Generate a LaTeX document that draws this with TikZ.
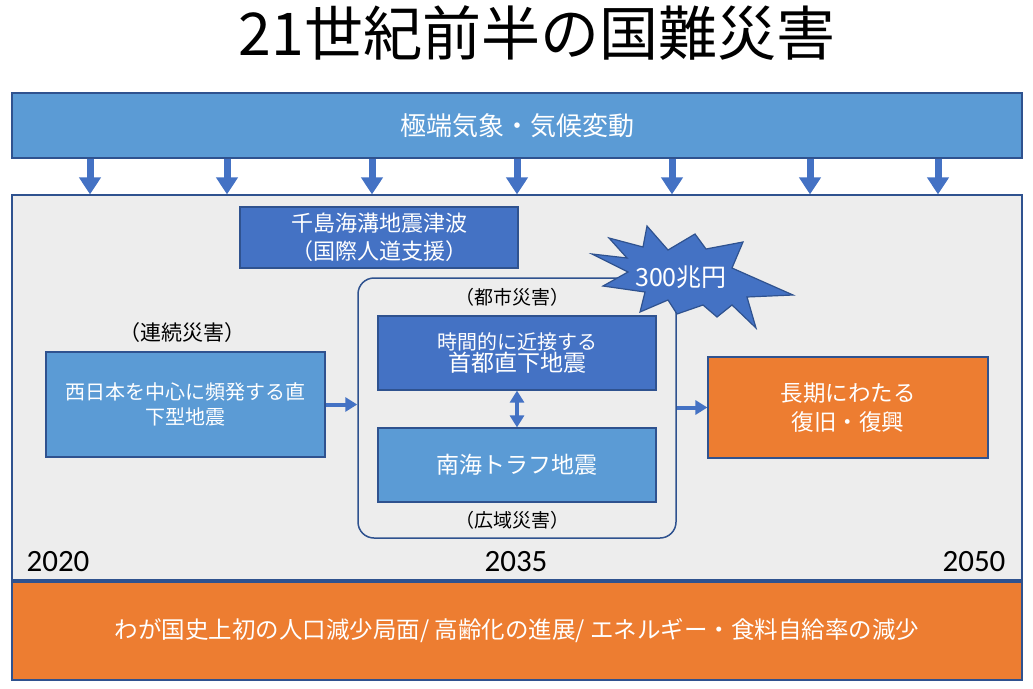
\documentclass[tikz,border=0pt]{standalone}
\usepackage{fontspec}
\setmainfont{Noto Sans CJK JP}
\newfontfamily\yearfont{Carlito}
\usetikzlibrary{arrows.meta}
\definecolor{skyblue}{HTML}{5B9BD5}
\definecolor{deepblue}{HTML}{4472C4}
\definecolor{edgeblue}{HTML}{2F528F}
\definecolor{tangerine}{HTML}{ED7D31}
\definecolor{panelgray}{HTML}{EDEDED}

\begin{document}
\begin{tikzpicture}[x=1pt, y=-1pt, >=Stealth,
    blockhead/.tip={Triangle[width=14pt,length=12pt]},
    box/.style={draw=edgeblue, line width=1.2pt, text=white, inner sep=0pt, align=center},
    lightbox/.style={box, fill=skyblue},
    darkbox/.style={box, fill=deepblue},
    orangebox/.style={box, fill=tangerine},
    tag/.style={font=\fontsize{19pt}{22pt}\selectfont},
    yearlabel/.style={font=\yearfont\fontsize{31pt}{34pt}\selectfont},
    bigarrow/.style={draw=deepblue, line width=7pt, -{Triangle[width=21pt,length=17pt]}},
    smallarrow/.style={draw=deepblue, line width=4pt, -blockhead}]

\useasboundingbox (0,0) rectangle (1033,688);

% Titulo
\node (title) at (537,33) {\fontsize{59pt}{62pt}\selectfont 21世紀前半の国難災害};

% Bandas
\node[lightbox, minimum width=1010pt, minimum height=65pt,
      font=\fontsize{26pt}{30pt}\selectfont] (climate) at (517,125.5) {極端気象・気候変動};
\node[box, fill=panelgray, minimum width=1010pt, minimum height=385pt] (panel) at (517,387.5) {};
\node[orangebox, minimum width=1010pt, minimum height=98pt,
      font=\fontsize{23.5pt}{26pt}\selectfont] (population) at (517,631)
      {わが国史上初の人口減少局面/ 高齢化の進展/ エネルギー・食料自給率の減少};

% Flechas del clima
\foreach \x in {90,227,372,517,672,810,938}{
    \draw[bigarrow] (climate.south -| \x,0) -- (panel.north -| \x,0);
}

% Cajas
\node[darkbox, minimum width=278pt, minimum height=61pt,
      font=\fontsize{22pt}{28pt}\selectfont] (chishima) at (379,237.5)
      {千島海溝地震津波\\（国際人道支援）};
\node[draw=edgeblue, line width=1.5pt, rounded corners=16pt,
      minimum width=318pt, minimum height=260pt] (cluster) at (517,408) {};
\node[darkbox, minimum width=278pt, minimum height=74pt] (shuto) at (517,353)
      {{\fontsize{20pt}{26pt}\selectfont 時間的に近接する}\\
       {\fontsize{23pt}{26pt}\selectfont 首都直下地震}};
\node[lightbox, minimum width=278pt, minimum height=74pt,
      font=\fontsize{23pt}{28pt}\selectfont] (nankai) at (517,465) {南海トラフ地震};
\node[lightbox, minimum width=279pt, minimum height=105pt,
      font=\fontsize{20pt}{25pt}\selectfont] (west) at (185.5,404.5)
      {西日本を中心に頻発する直\\下型地震};
\node[orangebox, minimum width=280pt, minimum height=101pt,
      font=\fontsize{22.5pt}{29pt}\selectfont] (recovery) at (848,407.5)
      {長期にわたる\\復旧・復興};

% Etiquetas
\node[tag] (urban) at (512,297) {（都市災害）};
\node[tag] (wide) at (512,520) {（広域災害）};
\node[tag, font=\fontsize{21pt}{24pt}\selectfont] (serial) at (182,333) {（連続災害）};
\node[yearlabel] (y2020) at (58,562) {2020};
\node[yearlabel] (y2035) at (516,562) {2035};
\node[yearlabel] (y2050) at (974,562) {2050};

% Estallido
\filldraw[fill=deepblue, draw=edgeblue, line width=1.2pt]
    (592,254) -- (627,258) -- (609,238) -- (643,247) -- (647,226) -- (668,250)
    -- (695,234) -- (706,249) -- (743,242) -- (732,268) -- (793,295) -- (747,297)
    -- (756,328) -- (732,305) -- (717,317) -- (703,305) -- (677,314) -- (668,300)
    -- (640,312) -- (645,292) -- (603,286) -- (628,272) -- cycle;
\node[text=white, font=\fontsize{25pt}{28pt}\selectfont] (cost) at (681,277) {300兆円};

% Conexiones
\draw[smallarrow] (west.east) -- (west.east -| cluster.west);
\draw[smallarrow] (cluster.east |- recovery.west) -- (recovery.west);
\draw[smallarrow, blockhead-blockhead] (shuto.south) -- (nankai.north);

\end{tikzpicture}
\end{document}
